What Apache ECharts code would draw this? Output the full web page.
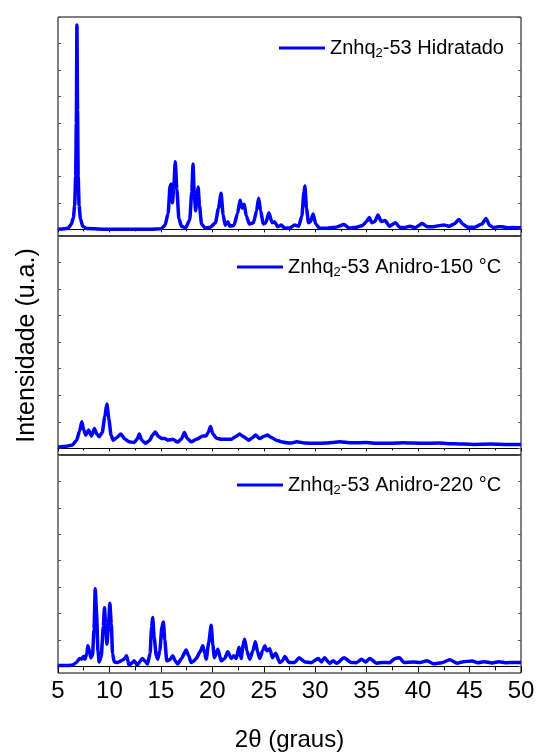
<!DOCTYPE html>
<html>
<head>
<meta charset="utf-8">
<title>Znhq2-53 DRX</title>
<script src="https://cdn.jsdelivr.net/npm/echarts@6/dist/echarts.min.js"></script>
<style>
  html, body { margin: 0; padding: 0; background: #fff; }
  #chart { width: 538px; height: 753px; }
</style>
</head>
<body>
<div id="chart"></div>
<script>
// Diffractograms: [2θ (graus), intensidade (u.a.)]
const hidratado = [
  [5,0.0],[5.6,0.02],[6.0,0.05],[6.3,0.2],[6.5,0.45],[6.62,0.9],[6.72,2.0],[6.78,4.0],[6.84,7.7],[6.9,4.5],
  [6.96,2.0],[7.05,0.9],[7.18,0.4],[7.4,0.12],[7.8,0.03],[10,0.0],[12,0.0],[14,0.0],[15.0,0.02],[15.4,0.15],
  [15.7,0.6],[15.9,1.65],[16.0,1.7],[16.12,1.0],[16.25,1.6],[16.4,2.55],[16.55,1.5],[16.75,0.4],[17.0,0.12],
  [17.4,0.06],[17.8,0.35],[18.0,1.4],[18.12,2.46],[18.25,1.3],[18.38,0.7],[18.5,1.2],[18.62,1.6],[18.75,0.9],
  [18.95,0.2],[19.3,0.05],[19.8,0.08],[20.3,0.25],[20.6,0.8],[20.85,1.36],[21.05,0.55],[21.25,0.15],[21.5,0.29],
  [21.7,0.12],[22.1,0.15],[22.45,0.6],[22.7,1.1],[22.9,0.8],[23.1,0.95],[23.3,0.5],[23.6,0.2],[24.0,0.25],
  [24.3,0.7],[24.5,1.17],[24.7,0.7],[24.95,0.2],[25.2,0.25],[25.5,0.63],[25.8,0.25],[26.05,0.29],[26.35,0.1],
  [26.7,0.16],[27.0,0.06],[27.5,0.05],[28.0,0.16],[28.4,0.12],[28.7,0.5],[28.9,1.4],[29.0,1.63],[29.15,0.8],
  [29.35,0.25],[29.55,0.3],[29.8,0.58],[30.05,0.2],[30.4,0.05],[31.0,0.04],[32.0,0.08],[32.8,0.18],[33.3,0.05],
  [34.0,0.08],[34.6,0.15],[35.0,0.3],[35.25,0.45],[35.5,0.25],[35.8,0.3],[36.1,0.54],[36.4,0.3],[36.8,0.33],
  [37.2,0.12],[37.8,0.25],[38.2,0.08],[38.7,0.07],[39.2,0.12],[39.7,0.06],[40.4,0.22],[40.9,0.1],[41.5,0.1],
  [42.0,0.14],[42.5,0.16],[43.0,0.12],[43.5,0.2],[43.95,0.37],[44.4,0.18],[44.8,0.08],[45.5,0.08],[46.2,0.2],
  [46.6,0.41],[46.95,0.15],[47.3,0.07],[47.8,0.1],[48.2,0.1],[48.6,0.06],[49.2,0.07],[50,0.06]
];

const anidro150 = [
  [5,0.04],[5.8,0.08],[6.4,0.13],[6.8,0.3],[7.1,0.65],[7.31,1.0],[7.5,0.7],[7.7,0.5],[7.96,0.69],[8.25,0.47],
  [8.54,0.75],[8.75,0.55],[9.0,0.44],[9.3,0.6],[9.55,1.2],[9.75,1.67],[9.95,1.1],[10.15,0.5],[10.36,0.31],
  [10.7,0.4],[11.1,0.54],[11.5,0.35],[11.9,0.25],[12.4,0.22],[12.7,0.35],[12.9,0.54],[13.15,0.3],[13.5,0.19],
  [13.9,0.3],[14.2,0.5],[14.46,0.62],[14.75,0.45],[15.1,0.37],[15.4,0.37],[15.66,0.31],[16.15,0.34],[16.64,0.24],
  [17.0,0.35],[17.29,0.6],[17.55,0.38],[17.94,0.25],[18.5,0.35],[19.08,0.47],[19.4,0.47],[19.62,0.62],[19.82,0.82],
  [20.05,0.55],[20.4,0.38],[20.86,0.34],[21.4,0.34],[21.84,0.34],[22.3,0.45],[22.65,0.54],[23.0,0.45],[23.56,0.31],
  [23.9,0.4],[24.2,0.5],[24.6,0.37],[25.0,0.45],[25.35,0.5],[25.7,0.42],[26.2,0.31],[26.7,0.25],[27.2,0.21],
  [27.7,0.2],[28.2,0.25],[29.0,0.2],[30.1,0.19],[31.0,0.2],[32.4,0.25],[33.5,0.21],[35.0,0.22],[36.0,0.19],
  [37.3,0.19],[38.5,0.21],[40.5,0.19],[42.0,0.2],[43.5,0.17],[45.4,0.15],[47.0,0.16],[48.5,0.15],[50,0.15]
];

const anidro220 = [
  [5,0.03],[6.0,0.03],[6.4,0.05],[6.8,0.15],[7.1,0.3],[7.3,0.28],[7.47,0.37],[7.63,0.27],[7.8,0.5],[7.9,0.78],
  [8.05,0.6],[8.19,0.33],[8.35,0.4],[8.5,1.4],[8.62,2.94],[8.75,2.0],[8.88,0.6],[9.0,0.17],[9.2,0.35],[9.4,1.5],
  [9.52,2.22],[9.62,1.6],[9.75,0.84],[9.9,1.5],[10.04,2.39],[10.18,1.6],[10.3,0.5],[10.46,0.17],[10.8,0.15],
  [11.2,0.22],[11.5,0.3],[11.66,0.4],[11.8,0.2],[11.9,0.05],[12.15,0.12],[12.4,0.21],[12.7,0.05],[13.0,0.2],
  [13.2,0.3],[13.45,0.2],[13.7,0.09],[13.95,0.5],[14.1,1.5],[14.2,1.85],[14.35,1.1],[14.55,0.4],[14.69,0.27],
  [14.9,0.6],[15.1,1.5],[15.24,1.68],[15.38,1.0],[15.57,0.21],[15.85,0.25],[16.15,0.4],[16.4,0.2],[16.64,0.09],
  [17.0,0.3],[17.45,0.62],[17.7,0.4],[17.94,0.15],[18.2,0.2],[18.43,0.3],[18.8,0.55],[19.08,0.78],[19.25,0.5],
  [19.4,0.27],[19.65,0.9],[19.89,1.56],[20.05,0.8],[20.2,0.33],[20.54,0.65],[20.86,0.21],[21.2,0.3],[21.5,0.55],
  [21.84,0.3],[22.07,0.4],[22.33,0.3],[22.59,0.72],[22.8,0.3],[22.98,0.8],[23.14,1.03],[23.35,0.6],[23.63,0.27],
  [23.95,0.6],[24.18,0.93],[24.4,0.55],[24.6,0.3],[24.9,0.6],[25.1,0.78],[25.3,0.59],[25.58,0.67],[25.84,0.33],
  [26.16,0.5],[26.55,0.15],[26.8,0.2],[27.04,0.37],[27.46,0.15],[28.0,0.15],[28.44,0.33],[28.99,0.17],[29.6,0.14],
  [30.3,0.3],[30.6,0.17],[30.9,0.33],[31.4,0.12],[31.75,0.21],[32.1,0.12],[32.8,0.33],[33.5,0.15],[34.0,0.14],
  [34.5,0.27],[34.9,0.17],[35.3,0.3],[35.98,0.12],[36.6,0.15],[37.2,0.14],[37.77,0.3],[38.2,0.33],[38.6,0.15],
  [39.56,0.17],[40.2,0.15],[40.86,0.21],[41.5,0.1],[42.3,0.14],[43.07,0.25],[43.8,0.12],[44.4,0.18],[45.25,0.2],
  [45.8,0.14],[46.4,0.18],[47.2,0.13],[47.85,0.18],[48.6,0.14],[49.3,0.15],[50,0.15]
];

// Series names (rich-text form draws the subscript "2")
const seriesNames = ['Znhq2-53 Hidratado', 'Znhq2-53 Anidro-150 °C', 'Znhq2-53 Anidro-220 °C'];
const seriesData = [hidratado, anidro150, anidro220];

// Axis settings
const xMin = 5, xMax = 50, xStep = 5;
const yMin = -0.25, yMax = 8;
const yTicks = [0, 1, 2, 3, 4, 5, 6, 7, 8];

const FONT = "'Liberation Sans', Arial, sans-serif";
const BLUE = '#0000ff';
const panelTops = [17, 236, 455];
const panelH = 219;
const legendPos = [[274, 33], [232, 252], [232, 470]];

const chart = echarts.init(document.getElementById('chart'), null, { renderer: 'canvas' });

const grids = panelTops.map(t => ({
  left: 58, right: 17, top: t, height: panelH,
  show: true, borderColor: '#000', borderWidth: 1, backgroundColor: 'transparent'
}));

const xAxes = panelTops.map((t, i) => {
  const last = i === panelTops.length - 1;
  return {
    type: 'value', gridIndex: i, min: xMin, max: xMax, interval: xStep,
    axisLine: { show: true, lineStyle: { color: '#000', width: 1 } },
    axisTick: { show: true, inside: false, length: last ? 6 : 3, lineStyle: { color: '#000', width: 1 } },
    minorTick: { show: true, splitNumber: 2, length: last ? 4 : 2, lineStyle: { color: '#000', width: 1 } },
    splitLine: { show: false },
    axisLabel: { show: last, fontSize: 24, color: '#000', fontFamily: FONT, margin: 6 },
    name: last ? '2θ (graus)' : '',
    nameLocation: 'middle', nameGap: 55,
    nameTextStyle: { fontSize: 24, color: '#000', fontFamily: FONT }
  };
});

function yAxisFor(i, position) {
  return {
    type: 'value', gridIndex: i, position: position, min: yMin, max: yMax,
    axisLine: { show: false },
    axisTick: { show: true, inside: true, length: 3, customValues: yTicks, lineStyle: { color: '#555', width: 1 } },
    axisLabel: { show: false },
    splitLine: { show: false },
    name: (i === 1 && position === 'left') ? 'Intensidade (u.a.)' : '',
    nameLocation: 'middle', nameGap: 18, nameRotate: 90,
    nameTextStyle: { fontSize: 25, color: '#000', fontFamily: FONT }
  };
}
const yAxes = panelTops.map((t, i) => yAxisFor(i, 'left'))
  .concat(panelTops.map((t, i) => yAxisFor(i, 'right')));

const legends = seriesNames.map((name, i) => ({
  data: [name],
  left: legendPos[i][0], top: legendPos[i][1],
  icon: 'rect', itemWidth: 46, itemHeight: 3, itemGap: 6,
  selectedMode: false,
  formatter: n => n.replace('Znhq2', 'Znhq{sub|2}'),
  textStyle: {
    fontSize: 20, color: '#000', fontFamily: FONT,
    rich: { sub: { fontSize: 13, fontFamily: FONT, color: '#000', verticalAlign: 'bottom', padding: [10, 0, 0, 0] } }
  }
}));

const series = seriesNames.map((name, i) => ({
  name: name, type: 'line', xAxisIndex: i, yAxisIndex: i,
  data: seriesData[i], showSymbol: false, symbol: 'none',
  smooth: 0.2, smoothMonotone: 'x',
  lineStyle: { color: BLUE, width: 3.5 }, itemStyle: { color: BLUE },
  clip: true
}));

chart.setOption({
  animation: false,
  backgroundColor: '#fff',
  grid: grids,
  xAxis: xAxes,
  yAxis: yAxes,
  legend: legends,
  series: series
});
</script>
</body>
</html>
